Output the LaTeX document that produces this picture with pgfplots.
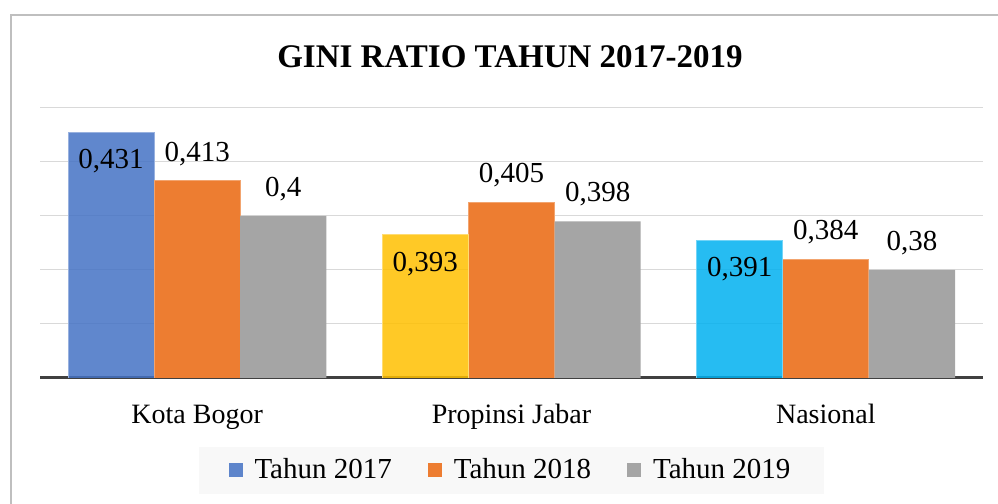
\documentclass[border=0pt]{standalone}
\usepackage{pgfplots}
\pgfplotsset{compat=1.18}
\usepackage{fontspec}
\setmainfont{Liberation Serif}
\usetikzlibrary{calc}
\definecolor{c17}{HTML}{4472C4}
\definecolor{cyel}{HTML}{FFC000}
\definecolor{ccyan}{HTML}{00B0F0}
\definecolor{c18}{HTML}{ED7D31}
\definecolor{c19}{HTML}{A5A5A5}
\definecolor{gridc}{HTML}{D9D9D9}
\definecolor{basec}{HTML}{404040}
\definecolor{framec}{HTML}{BFBFBF}
\definecolor{legbg}{HTML}{F8F8F8}

\begin{document}
\begin{tikzpicture}
\begin{axis}[
  scale only axis, width=471.5pt, height=135pt,
  xmin=-0.5, xmax=2.5, ymin=0.34, ymax=0.44,
  ybar, bar width=0.274,
  xtick={0,1,2}, xticklabels={Kota Bogor, Propinsi Jabar, Nasional},
  xticklabel style={font=\fontsize{14}{16}\selectfont, anchor=base, yshift=-23pt},
  major tick length=0pt,
  ytick={0.36,0.38,0.40,0.42,0.44}, yticklabels={},
  ymajorgrids, grid style={gridc, line width=0.5pt},
  axis x line*=bottom, axis y line*=left,
  y axis line style={draw=none},
  x axis line style={basec, line width=1.5pt, -},
  title={GINI RATIO TAHUN 2017-2019},
  title style={font=\bfseries\fontsize{16.5}{18}\selectfont, at={(0.4984,1)}, anchor=center, yshift=19.5pt},
  /pgf/number format/.cd, fixed, precision=3, use comma, assume math mode=true,
  /pgfplots/.cd,
  point meta=y,
  nodes near coords style={font=\fontsize{14.5}{16}\selectfont, text=black, text opacity=1, anchor=center},
  legend style={at={(0.5,-0.341)}, anchor=center, legend columns=3, draw=none, fill=legbg,
    font=\fontsize{14.5}{16}\selectfont, inner xsep=15pt, inner ysep=4pt,
    /tikz/every even column/.append style={column sep=16pt}},
  legend image code/.code={\fill[#1, draw=none] (0pt,-3.5pt) rectangle (7pt,3.5pt); \path[draw=none, fill=none] (0pt,0pt) -- (11pt,0pt);},
]
% Tahun 2017 (Kota Bogor)
\addplot[fill=c17, fill opacity=0.85, draw=c17!55, bar shift=-0.274,
  nodes near coords, nodes near coords style={yshift=-14.5pt}] coordinates {(0,0.431)};
% Tahun 2018
\addplot[fill=c18, draw=c18!70, bar shift=0,
  nodes near coords, nodes near coords style={yshift=13.5pt}] coordinates {(0,0.413) (1,0.405) (2,0.384)};
% Tahun 2019
\addplot[fill=c19, draw=none, bar shift=0.274,
  nodes near coords, nodes near coords style={yshift=13.5pt}] coordinates {(0,0.4) (1,0.398) (2,0.38)};
% Tahun 2017 (Propinsi Jabar, Nasional)
\addplot[forget plot, fill=cyel, fill opacity=0.85, draw=cyel!55, bar shift=-0.274,
  nodes near coords, nodes near coords style={yshift=-14.5pt}] coordinates {(1,0.393)};
\addplot[forget plot, fill=ccyan, fill opacity=0.85, draw=ccyan!55, bar shift=-0.274,
  nodes near coords, nodes near coords style={yshift=-14.5pt}] coordinates {(2,0.391)};
\legend{Tahun 2017, Tahun 2018, Tahun 2019}
\end{axis}
\draw[framec, line width=0.75pt] ($(current axis.south west)+(-14.5pt,-70pt)$) -- ($(current axis.south west)+(-14.5pt,181.5pt)$) -- ($(current axis.south west)+(485pt,181.5pt)$);
\pgfresetboundingbox
\path[use as bounding box] ($(current axis.south west)+(-20pt,-63pt)$) rectangle ++(499pt,252pt);
\end{tikzpicture}
\end{document}
